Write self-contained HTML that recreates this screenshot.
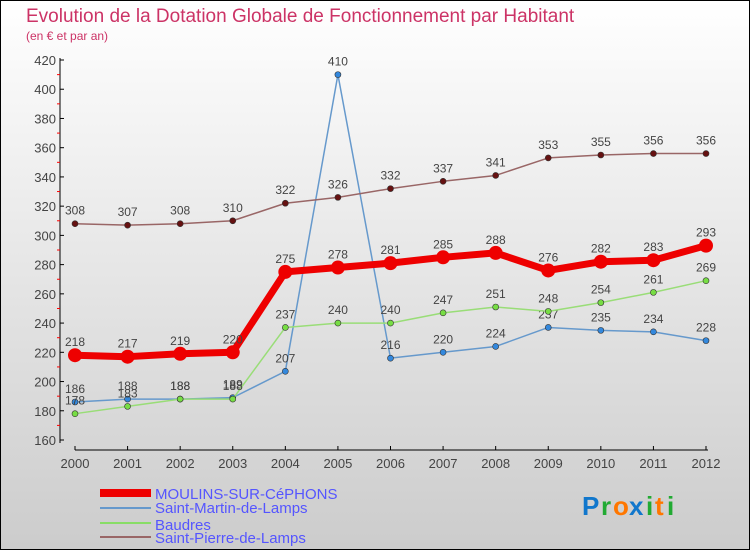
<!DOCTYPE html>
<html><head><meta charset="utf-8"><style>
body{margin:0;}
svg{display:block;font-family:"Liberation Sans",sans-serif;}
</style></head><body>
<svg id="chart" width="750" height="550" viewBox="0 0 750 550">
<defs><linearGradient id="bg" x1="0" y1="0" x2="0" y2="1"><stop offset="0" stop-color="#ffffff"/><stop offset="1" stop-color="#cccccc"/></linearGradient></defs>
<rect x="0.5" y="0.5" width="749" height="549" fill="url(#bg)" stroke="#000"/>
<text x="26" y="22" font-size="19" fill="#cc3366">Evolution de la Dotation Globale de Fonctionnement par Habitant</text>
<text x="26" y="40" font-size="12" fill="#cc3366">(en € et par an)</text>
<g id="axes"></g>
<g id="series"></g>
<g id="legend">
<rect x="100" y="489" width="51" height="8" fill="#ee0000"/>
<text x="155" y="499" font-size="15" fill="#5555ff">MOULINS-SUR-CéPHONS</text>
<rect x="100" y="507" width="51" height="2" fill="#6699cc"/>
<text x="155" y="513" font-size="15" fill="#5555ff">Saint-Martin-de-Lamps</text>
<rect x="100" y="522" width="51" height="2" fill="#88dd66"/>
<text x="155" y="530" font-size="15" fill="#5555ff">Baudres</text>
<rect x="100" y="536" width="51" height="2" fill="#996666"/>
<text x="155" y="543" font-size="15" fill="#5555ff">Saint-Pierre-de-Lamps</text>
</g>
<g font-size="26" font-weight="bold">
<text x="582" y="515" fill="#1177cc">P</text><text x="601" y="515" fill="#22aa33">r</text><text x="613" y="515" fill="#ff7700">o</text><text x="629" y="515" fill="#1177cc">x</text><text x="646" y="515" fill="#22aa33">i</text><text x="655" y="515" fill="#ff7700">t</text><text x="667" y="515" fill="#22aa33">i</text>
</g>
</svg>
<script>
const years=[2000,2001,2002,2003,2004,2005,2006,2007,2008,2009,2010,2011,2012];
const moulins=[218,217,219,220,275,278,281,285,288,276,282,283,293];
const saintMartin=[186,188,188,189,207,410,216,220,224,237,235,234,228];
const baudres=[178,183,188,188,237,240,240,247,251,248,254,261,269];
const saintPierre=[308,307,308,310,322,326,332,337,341,353,355,356,356];
const yTicks=[160,180,200,220,240,260,280,300,320,340,360,380,400,420];
const NS="http://www.w3.org/2000/svg";
const xS=i=>75+i*(706-75)/12;
const yS=v=>440-(v-160)*380/260;
function mk(tag,attrs,parent){const e=document.createElementNS(NS,tag);for(const k in attrs)e.setAttribute(k,attrs[k]);parent.appendChild(e);return e;}
const ax=document.getElementById('axes');
let l=mk('line',{x1:60,y1:58,x2:60,y2:443,stroke:'#000','stroke-width':1},ax);


l=mk('line',{x1:75,y1:450,x2:708,y2:450,stroke:'#000','stroke-width':1},ax);


yTicks.forEach((v,i)=>{
  const y=yS(v);
  mk('line',{x1:60,y1:y,x2:64,y2:y,stroke:'#000'},ax);
  if(i<yTicks.length-1)mk('line',{x1:57,y1:y-14.6,x2:60,y2:y-14.6,stroke:'#f00'},ax);
  const t=mk('text',{x:56,y:y+5,'font-size':13,fill:'#444','text-anchor':'end'},ax);
  t.textContent=v;
  
  
});
years.forEach((yr,i)=>{
  const x=xS(i);
  mk('line',{x1:x,y1:446,x2:x,y2:450,stroke:'#000'},ax);
  const t=mk('text',{x:x,y:468,'font-size':13,fill:'#444','text-anchor':'middle'},ax);
  t.textContent=yr;
  
  
});
const sg=document.getElementById('series');
function draw(vals,color,w,r,name,dot){
  const g=mk('g',{},sg);
  
  
  const p=mk('polyline',{points:vals.map((v,i)=>xS(i)+','+yS(v)).join(' '),fill:'none',stroke:color,'stroke-width':w,'stroke-linejoin':'round'},g);
  
  
  vals.forEach((v,i)=>{
    const c=mk('circle',{cx:xS(i),cy:yS(v),r:r,fill:dot,stroke:'#333','stroke-width':r>4?0:0.6},g);
    
    
    const t=mk('text',{x:xS(i),y:yS(v)-9,'font-size':12,fill:'#444','text-anchor':'middle'},g);
    t.textContent=v;
    
    
  });
}
draw(saintMartin,'#6699cc',1.5,3,'saint-martin','#3388dd');
draw(baudres,'#99dd77',1.5,3,'baudres','#77dd44');
draw(saintPierre,'#996666',1.5,3,'saint-pierre','#661111');
draw(moulins,'#ee0000',7,7,'moulins','#ee0000');
</script>
</body></html>
